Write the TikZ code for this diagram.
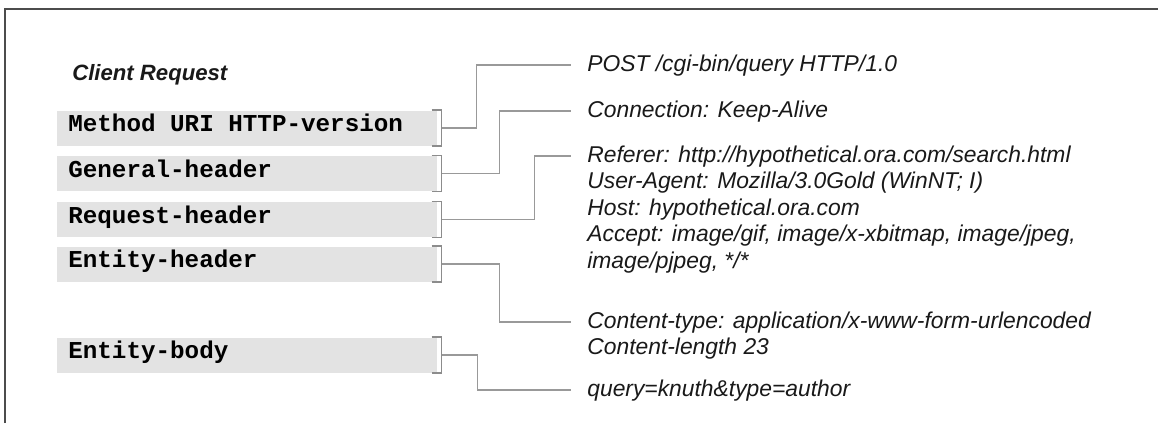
\documentclass[tikz,border=0pt]{standalone}
\usepackage{fontspec}
\setsansfont{Liberation Sans}
\setmonofont{Liberation Mono}
\newcommand{\fsp}{\hspace*{0.6em}}
\begin{document}
\begin{tikzpicture}[x=0.02cm,y=-0.02cm,
        frame/.style={draw=black!70,line width=1.6pt},
        field/.style={anchor=west,fill=black!11,inner xsep=0.22cm,inner ysep=0pt,
            text width=7.16cm,minimum height=0.7cm,
            text height=0.62em,text depth=0.2em,font=\fontsize{13.8}{16}\ttfamily\bfseries},
        brk/.style={draw=black!45,line width=0.9pt},
        link/.style={draw=black!40,line width=0.7pt},
        reqline/.style={anchor=west,inner sep=0pt,text height=0.716em,text depth=0pt,
            text=black!90,font=\fontsize{13}{15}\sffamily\itshape}]
    \useasboundingbox (0,0) rectangle (1158,423);
    \draw[frame] (5,423) -- (5,9) -- (1158,9);
    % left column
    \node[anchor=west,inner sep=0pt,text=black!90,
        font=\fontsize{12.6}{15}\sffamily\bfseries\itshape] (title) at (72,75) {Client Request};
    \node[field] (method) at (57,128) {Method\fsp URI\fsp HTTP-version};
    \node[field] (general) at (57,173.5) {General-header};
    \node[field] (request) at (57,219.5) {Request-header};
    \node[field] (entity) at (57,264) {Entity-header};
    \node[field] (body) at (57,355) {Entity-body};
    % brackets
    \draw[brk] ([xshift=-0.12cm]method.north east) -- ([xshift=0.08cm]method.north east) -- ([xshift=0.08cm]method.south east) -- ([xshift=-0.12cm]method.south east);
    \draw[brk] ([xshift=-0.12cm]general.north east) -- ([xshift=0.08cm]general.north east) -- ([xshift=0.08cm]general.south east) -- ([xshift=-0.12cm]general.south east);
    \draw[brk] ([xshift=-0.12cm]request.north east) -- ([xshift=0.08cm]request.north east) -- ([xshift=0.08cm]request.south east) -- ([xshift=-0.12cm]request.south east);
    \draw[brk] ([xshift=-0.12cm]entity.north east) -- ([xshift=0.08cm]entity.north east) -- ([xshift=0.08cm]entity.south east) -- ([xshift=-0.12cm]entity.south east);
    \draw[brk] ([xshift=-0.12cm]body.north east) -- ([xshift=0.08cm]body.north east) -- ([xshift=0.08cm]body.south east) -- ([xshift=-0.12cm]body.south east);
    % right column
    \node[reqline] (post) at (587,65) {POST /cgi-bin/query HTTP/1.0};
    \node[reqline] (conn) at (587,111) {Connection: Keep-Alive};
    \node[reqline] (referer) at (587,156) {Referer: http://hypothetical.ora.com/search.html};
    \node[reqline] (agent) at (587,182.5) {User-Agent: Mozilla/3.0Gold (WinNT; I)};
    \node[reqline] (host) at (587,209) {Host: hypothetical.ora.com};
    \node[reqline] (accept) at (587,235.5) {Accept: image/gif, image/x-xbitmap, image/jpeg,};
    \node[reqline] (pjpeg) at (587,262) {image/pjpeg, */*};
    \node[reqline] (ctype) at (587,322) {Content-type: application/x-www-form-urlencoded};
    \node[reqline] (clength) at (587,348.5) {Content-length 23};
    \node[reqline] (query) at (587,390) {query=knuth\&type=author};
    % connectors
    \draw[link] ([xshift=0.08cm]method.east) -- ++(35,0) |- ([xshift=-0.32cm]post.west);
    \draw[link] ([xshift=0.08cm]general.east) -- ++(58,0) |- ([xshift=-0.32cm]conn.west);
    \draw[link] ([xshift=0.08cm]request.east) -- ++(93,0) |- ([xshift=-0.32cm]referer.west);
    \draw[link] ([xshift=0.08cm]entity.east) -- ++(58,0) |- ([xshift=-0.32cm]ctype.west);
    \draw[link] ([xshift=0.08cm]body.east) -- ++(36,0) |- ([xshift=-0.32cm]query.west);
\end{tikzpicture}
\end{document}
